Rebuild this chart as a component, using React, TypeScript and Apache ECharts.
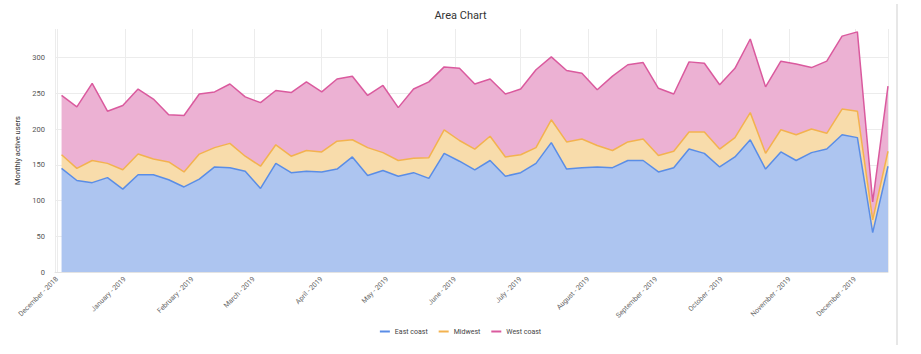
import React, { useEffect, useRef } from "react";
import * as echarts from "echarts";

const weeks: string[] = [
  "2018-12-03", "2018-12-10", "2018-12-17", "2018-12-24", "2018-12-31",
  "2019-01-07", "2019-01-14", "2019-01-21", "2019-01-28",
  "2019-02-04", "2019-02-11", "2019-02-18", "2019-02-25",
  "2019-03-04", "2019-03-11", "2019-03-18", "2019-03-25",
  "2019-04-01", "2019-04-08", "2019-04-15", "2019-04-22", "2019-04-29",
  "2019-05-06", "2019-05-13", "2019-05-20", "2019-05-27",
  "2019-06-03", "2019-06-10", "2019-06-17", "2019-06-24",
  "2019-07-01", "2019-07-08", "2019-07-15", "2019-07-22", "2019-07-29",
  "2019-08-05", "2019-08-12", "2019-08-19", "2019-08-26",
  "2019-09-02", "2019-09-09", "2019-09-16", "2019-09-23", "2019-09-30",
  "2019-10-07", "2019-10-14", "2019-10-21", "2019-10-28",
  "2019-11-04", "2019-11-11", "2019-11-18", "2019-11-25",
  "2019-12-02", "2019-12-09", "2019-12-16",
];

const eastCoast: number[] = [
  145, 128, 125, 132, 116, 136, 136, 129, 119, 130, 147, 146, 141, 117, 152, 139, 141, 140, 144, 161,
  135, 142, 134, 139, 131, 166, 155, 143, 156, 134, 139, 152, 181, 144, 146, 147, 146, 156, 156, 140,
  146, 172, 166, 147, 161, 185, 144, 168, 156, 167, 172, 192, 188, 55, 148,
];

const midwest: number[] = [
  19, 17, 31, 20, 27, 29, 22, 25, 21, 35, 27, 34, 21, 31, 26, 23, 29, 28, 39, 24,
  39, 25, 22, 20, 29, 33, 29, 29, 34, 27, 25, 22, 32, 38, 40, 30, 24, 26, 30, 23,
  23, 24, 30, 25, 27, 38, 22, 31, 36, 33, 22, 36, 37, 18, 21,
];

const westCoast: number[] = [
  83, 86, 108, 73, 90, 91, 84, 66, 79, 84, 78, 83, 83, 89, 76, 89, 96, 84, 87, 89,
  73, 94, 74, 97, 106, 88, 101, 91, 80, 88, 92, 109, 88, 100, 92, 78, 104, 108, 107, 94,
  80, 98, 96, 90, 97, 103, 93, 96, 99, 86, 101, 102, 111, 25, 91,
];

const seriesNames = ["East coast", "Midwest", "West coast"];
const lineColors = ["#5a8de6", "#f3b24f", "#da5a9e"];
const fillColors = ["#adc5f0", "#f8dcab", "#ecb1d3"];
const monthNames = [
  "January", "February", "March", "April", "May", "June",
  "July", "August", "September", "October", "November", "December",
];

export default function App() {
  const ref = useRef<HTMLDivElement>(null);
  useEffect(() => {
    if (!ref.current) return;
    const chart = echarts.init(ref.current, undefined, { renderer: "svg" });
    const values = [eastCoast, midwest, westCoast];
    const font = "Roboto, 'Noto Sans', sans-serif";
    chart.setOption({
      animation: false,
      textStyle: { fontFamily: font },
      title: {
        text: "Area Chart",
        left: "center",
        top: 5,
        textStyle: { fontSize: 11, fontWeight: "normal", color: "#333", fontFamily: font },
      },
      legend: {
        bottom: 14,
        left: "center",
        icon: "rect",
        itemWidth: 10,
        itemHeight: 2,
        itemGap: 11,
        textStyle: { fontSize: 7, color: "#444", fontFamily: font },
        data: seriesNames,
      },
      grid: { left: 55, right: 33, top: 29, bottom: 82, containLabel: false },
      xAxis: {
        type: "time",
        min: "2018-11-30",
        max: "2019-12-16",
        minInterval: 28 * 86400000,
        maxInterval: 31 * 86400000,
        axisLine: { show: true, lineStyle: { color: "#e3e3e3" } },
        axisTick: { show: false },
        splitLine: { show: true, lineStyle: { color: "#ececec" } },
        axisLabel: {
          rotate: 45,
          fontSize: 7,
          color: "#666",
          fontFamily: font,
          margin: 6,
          formatter: (v: number) => {
            const d = new Date(v);
            return monthNames[d.getMonth()] + " - " + d.getFullYear();
          },
        },
      },
      yAxis: {
        type: "value",
        min: 0,
        max: 340,
        interval: 50,
        name: "Monthly active users",
        nameLocation: "middle",
        nameGap: 24,
        nameTextStyle: { fontSize: 7.5, color: "#333", fontFamily: font },
        axisLine: { show: false },
        axisTick: { show: false },
        splitLine: { show: true, showMaxLine: false, lineStyle: { color: "#ececec" } },
        axisLabel: { fontSize: 7.5, color: "#555", fontFamily: font, showMaxLabel: false, margin: 10 },
      },
      graphic: [
        {
          type: "line",
          shape: { x1: 897, y1: 4, x2: 897, y2: 345 },
          style: { stroke: "#cfcfcf", lineWidth: 1 },
        },
      ],
      series: seriesNames.map((name, si) => ({
        name,
        type: "line",
        stack: "total",
        symbol: "none",
        showSymbol: false,
        color: lineColors[si],
        lineStyle: { width: 1.5, color: lineColors[si] },
        areaStyle: { color: fillColors[si], opacity: 1 },
        data: weeks.map((w, i) => [w, values[si][i]]),
      })),
    });
    return () => chart.dispose();
  }, []);
  return (
    <div
      ref={ref}
      style={{ position: "absolute", left: 0, top: 0, width: 921, height: 354 }}
    />
  );
}
